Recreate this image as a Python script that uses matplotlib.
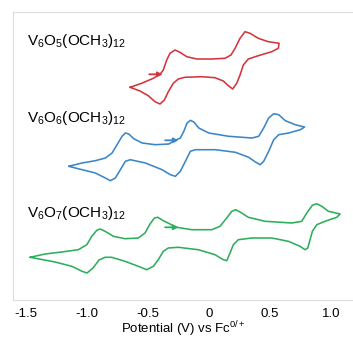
import matplotlib
matplotlib.use("Agg")
import matplotlib.pyplot as plt

plt.rcParams['font.family'] = ['Liberation Sans', 'DejaVu Sans']
plt.rcParams['mathtext.fontset'] = 'custom'
plt.rcParams['mathtext.rm'] = 'Liberation Sans'
plt.rcParams['mathtext.it'] = 'Liberation Sans:italic'
plt.rcParams['mathtext.bf'] = 'Liberation Sans:bold'

# ---------------- data (potential in V vs Fc, current in a.u.) ----------------
red_v = [-0.648, -0.552, -0.457, -0.402, -0.375, -0.347, -0.320, -0.279, -0.238, -0.183,
         -0.101, 0.022, 0.131, 0.180, 0.213, 0.254, 0.295, 0.336, 0.404, 0.486, 0.574,
         0.568, 0.514, 0.404, 0.322, 0.281, 0.254, 0.227, 0.194, 0.158, 0.117, 0.049,
         -0.060, -0.197, -0.252, -0.293, -0.334, -0.366, -0.402, -0.443, -0.498, -0.566,
         -0.648]
red_i = [-1.93, -1.53, -1.03, -0.63, -0.20, 0.80, 1.47, 1.80, 1.57, 1.13,
         0.90, 0.90, 0.97, 1.30, 1.97, 2.97, 3.63, 3.47, 2.97, 2.63, 2.47,
         1.97, 1.63, 1.23, 0.90, 0.30, -0.70, -1.53, -2.10, -1.77, -1.30, -0.97,
         -0.87, -0.93, -1.10, -1.53, -2.37, -3.20, -3.60, -3.37, -2.77, -2.30,
         -1.93]

blue_v = [-1.150, -1.041, -0.932, -0.850, -0.795, -0.754, -0.713, -0.686, -0.658, -0.617,
          -0.549, -0.440, -0.330, -0.276, -0.235, -0.207, -0.180, -0.153, -0.125, -0.084,
          -0.002, 0.161, 0.352, 0.407, 0.448, 0.489, 0.530, 0.571, 0.625, 0.707, 0.783,
          0.748, 0.653, 0.571, 0.530, 0.489, 0.448, 0.420, 0.380, 0.325, 0.216, 0.052,
          -0.112, -0.153, -0.194, -0.235, -0.276, -0.317, -0.385, -0.522, -0.645, -0.686,
          -0.727, -0.768, -0.809, -0.850, -0.932, -1.041, -1.150]
blue_i = [-2.13, -1.80, -1.57, -1.30, -0.80, 0.03, 0.87, 1.20, 1.10, 0.63,
          0.20, 0.03, 0.10, 0.47, 0.70, 1.37, 2.20, 2.47, 2.30, 1.70,
          1.20, 0.87, 0.70, 0.87, 1.70, 2.70, 3.13, 3.03, 2.43, 2.03, 1.80,
          1.53, 1.20, 1.03, 0.53, -0.63, -1.63, -1.97, -1.70, -1.23, -0.73, -0.47,
          -0.47, -0.63, -1.63, -2.63, -3.13, -2.97, -2.47, -1.80, -1.47, -1.63,
          -2.47, -3.30, -3.57, -3.30, -2.80, -2.47, -2.13]

green_v = [-1.467, -1.344, -1.207, -1.071, -1.002, -0.961, -0.920, -0.893, -0.852, -0.784,
           -0.689, -0.580, -0.525, -0.484, -0.448, -0.420, -0.375, -0.265, -0.142, 0.022,
           0.090, 0.145, 0.186, 0.219, 0.254, 0.322, 0.459, 0.678, 0.760, 0.801, 0.847,
           0.883, 0.924, 0.978, 1.074,
           1.047, 0.951, 0.883, 0.847, 0.828, 0.809, 0.787, 0.746, 0.650, 0.514, 0.350,
           0.240, 0.199, 0.172, 0.145, 0.117, 0.049, -0.088, -0.252, -0.334, -0.375,
           -0.416, -0.457, -0.511, -0.580, -0.689, -0.798, -0.852, -0.902, -0.951, -1.000,
           -1.041, -1.125, -1.262, -1.467]
green_i = [-2.03, -1.70, -1.50, -1.27, -0.77, 0.07, 0.67, 0.80, 0.57, 0.07,
           -0.17, -0.10, 0.40, 1.30, 1.90, 1.97, 1.63, 0.97, 0.73, 0.73,
           1.07, 1.90, 2.57, 2.73, 2.50, 1.97, 1.57, 1.40, 1.57, 2.40, 3.17,
           3.33, 3.07, 2.57, 2.30,
           1.97, 1.57, 1.23, 0.57, -0.27, -1.10, -1.27, -0.93, -0.43, -0.10, -0.10,
           -0.27, -0.77, -1.60, -2.37, -2.27, -1.77, -1.27, -1.03, -1.10, -1.43,
           -2.27, -2.93, -3.27, -2.93, -2.43, -2.03, -2.03, -2.30, -3.10, -3.60,
           -3.43, -2.93, -2.50, -2.03]

labels = [r"V$_6$O$_5$(OCH$_3$)$_{12}$", r"V$_6$O$_6$(OCH$_3$)$_{12}$", r"V$_6$O$_7$(OCH$_3$)$_{12}$"]
offsets = [23.2, 15.5, 6.3]
label_y = [25.9, 18.2, 8.7]
arrow_v = [-0.40, -0.27, -0.27]          # start potential of scan (arrow position)
arrow_i = [-0.63, 0.47, 0.97]
colors = ["#d1363c", "#3b86c6", "#2eae5c"]

xticks = [-1.5, -1.0, -0.5, 0.0, 0.5, 1.0]
xticklabels = ["-1.5", "-1.0", "-0.5", "0", "0.5", "1.0"]

# ---------------- figure ----------------
fig = plt.figure(figsize=(3.53, 3.38), dpi=100)
ax = fig.add_axes([13/353, 38/338, 1 - 13/353, (300-12)/338])

series = [(red_v, red_i), (blue_v, blue_i), (green_v, green_i)]
for (v, i), off, c, lab, ly, av, ai in zip(series, offsets, colors, labels, label_y, arrow_v, arrow_i):
    ax.plot(v, [x + off for x in i], color=c, lw=1.15, solid_joinstyle='round',
            solid_capstyle='round')
    ax.text(-1.492, ly, lab, fontsize=11, ha='left', va='center', color='black')
    ax.annotate("", xy=(av + 0.02, ai + off), xytext=(av - 0.09, ai + off),
                arrowprops=dict(arrowstyle='-|>', color=c, lw=1.3,
                                mutation_scale=7, shrinkA=0, shrinkB=0))

ax.set_xlim(-1.607, 1.180)
ax.set_ylim(0, 28.8)
ax.set_yticks([])
ax.set_xticks(xticks)
ax.set_xticklabels(xticklabels, fontsize=9.5)
ax.tick_params(axis='x', length=0, pad=5.5)
for s in ['left', 'top', 'bottom']:
    ax.spines[s].set_color('#dcdcdc')
    ax.spines[s].set_linewidth(0.8)
ax.spines['right'].set_visible(False)
ax.set_xlabel(r"Potential (V) vs Fc$^{0/+}$", fontsize=9.5, labelpad=-0.5)

fig.savefig("out.png", dpi=100)
